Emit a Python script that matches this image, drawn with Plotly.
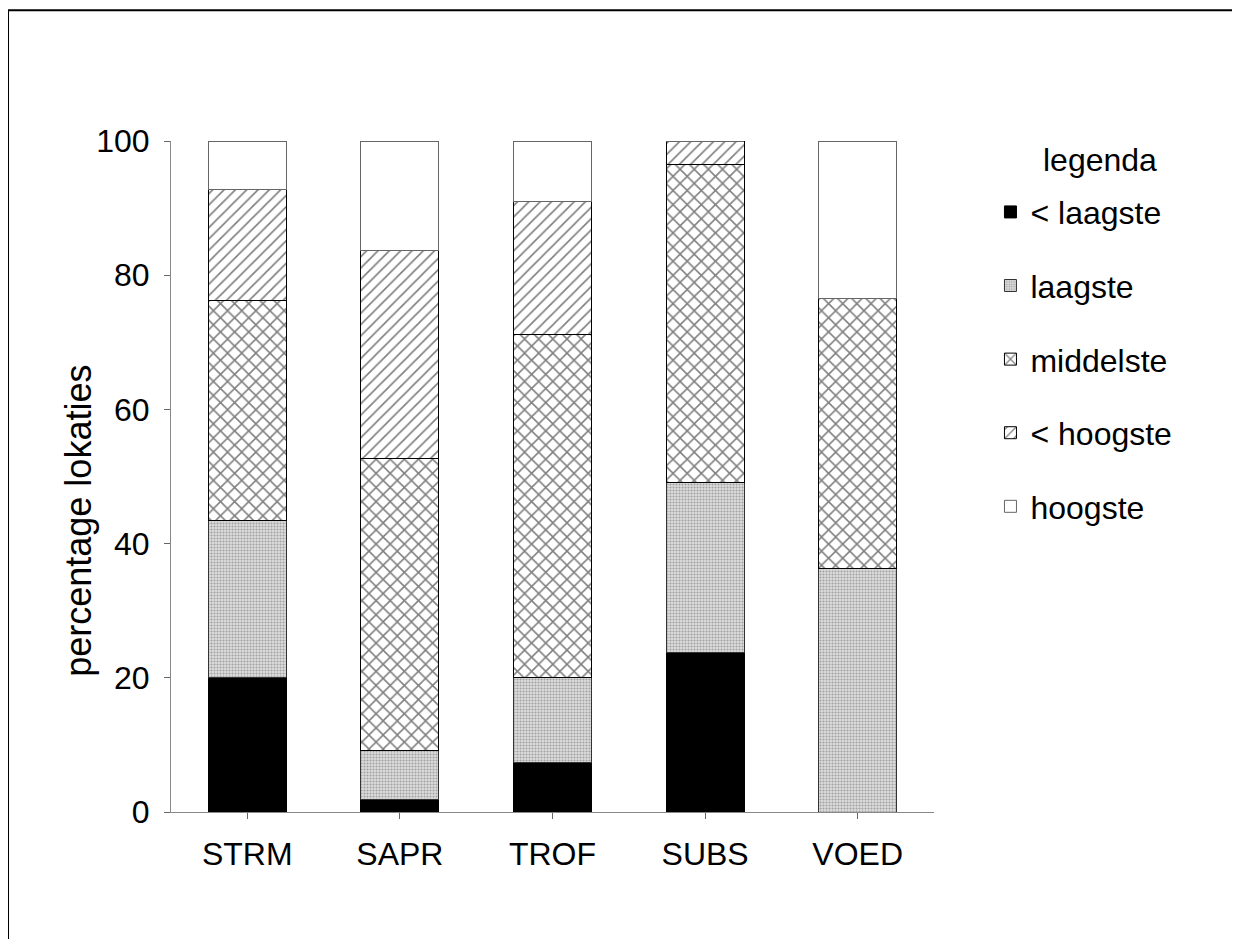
import plotly.graph_objects as go

categories = ["STRM", "SAPR", "TROF", "SUBS", "VOED"]
lt_laagste = [20.0, 1.8, 7.4, 23.8, 0.0]
laagste = [23.5, 7.4, 12.7, 25.3, 36.3]
middelste = [32.8, 43.5, 51.0, 47.4, 40.2]
lt_hoogste = [16.4, 31.0, 19.9, 3.5, 0.0]
hoogste = [7.3, 16.3, 9.0, 0.0, 23.5]

series = [
    ("< laagste", lt_laagste, dict(color="black", line=dict(color="black", width=1))),
    ("laagste", laagste, dict(color="#dddddd", line=dict(color="#333", width=1),
                               pattern=dict(shape=".", fgcolor="#666", size=3, solidity=0.4))),
    ("middelste", middelste, dict(color="white", line=dict(color="black", width=1),
                                   pattern=dict(shape="x", fgcolor="black", bgcolor="white", size=10, solidity=0.28))),
    ("< hoogste", lt_hoogste, dict(color="white", line=dict(color="black", width=1),
                                    pattern=dict(shape="/", fgcolor="black", bgcolor="white", size=8, solidity=0.2))),
    ("hoogste", hoogste, dict(color="white", line=dict(color="#666", width=1))),
]

fig = go.Figure()
for i, (name, vals, marker) in enumerate(series):
    fig.add_trace(go.Bar(x=categories, y=vals, name=name, marker=marker, legendgroup=name))

font_family = "Liberation Sans, Arial, sans-serif"
fig.update_layout(
    width=1240, height=939,
    barmode="stack",
    bargap=0.49,
    plot_bgcolor="white",
    paper_bgcolor="white",
    margin=dict(l=163, r=314, t=133, b=135),
    font=dict(family=font_family, size=32, color="black"),
    showlegend=True,
    legend=dict(
        x=1.074, y=0.935, xanchor="left", yanchor="top",
        traceorder="grouped",
        tracegroupgap=29,
        font=dict(size=32),
        bgcolor="rgba(0,0,0,0)",
    ),
    shapes=[dict(type="rect", xref="paper", yref="paper",
                 x0=-0.2136, x1=1.397, y0=-0.25, y1=1.195,
                 line=dict(color="black", width=2), layer="below")],
    annotations=[
        dict(text="percentage lokaties", xref="paper", yref="paper",
             x=-0.1206, y=0.434, xanchor="center", yanchor="middle",
             textangle=-90, showarrow=False, font=dict(size=36)),
        dict(text="legenda", xref="paper", yref="paper",
             x=1.2176, y=0.972, xanchor="center", yanchor="middle",
             showarrow=False, font=dict(size=32)),
    ],
)
fig.update_yaxes(
    range=[0, 100], tickvals=[0, 20, 40, 60, 80, 100],
    showgrid=False, zeroline=False,
    showline=True, linecolor="#888", linewidth=1,
    ticks="outside", ticklen=6, tickcolor="#666",
    ticklabelstandoff=8,
)
fig.update_xaxes(
    showgrid=False, zeroline=False,
    showline=True, linecolor="#888", linewidth=1,
    ticks="outside", ticklen=6, tickcolor="#666",
    ticklabelstandoff=8,
)
fig.write_html("out.html")
